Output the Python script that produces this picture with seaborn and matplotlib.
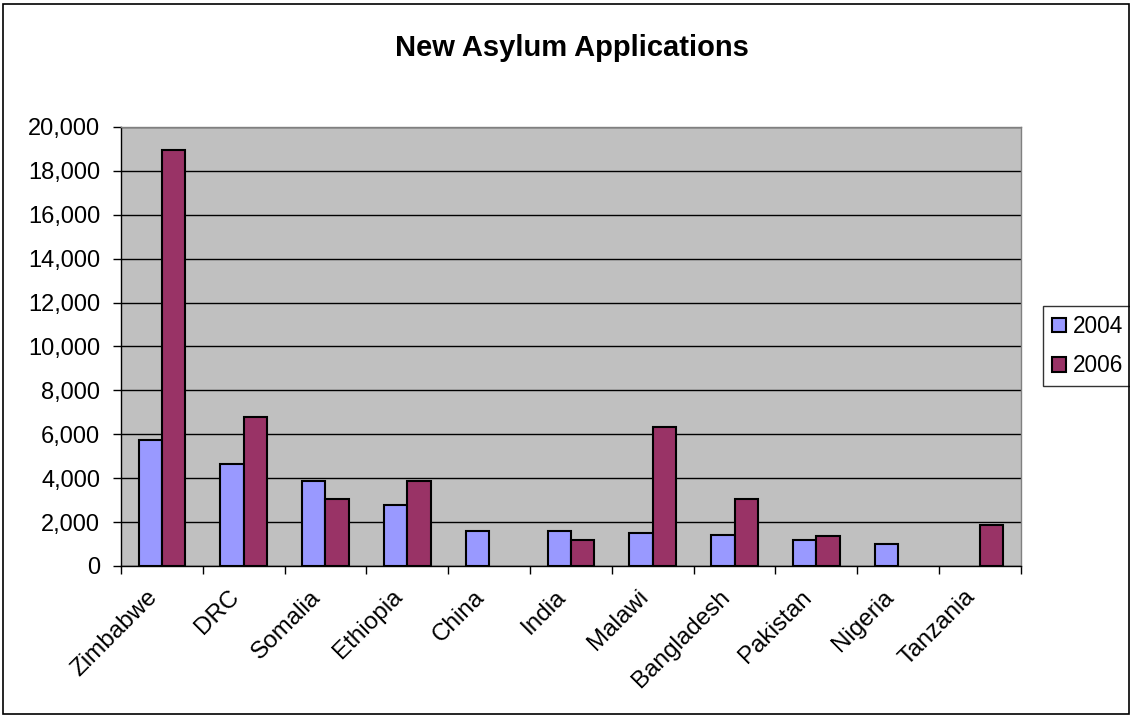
import matplotlib
matplotlib.use("Agg")
import matplotlib.pyplot as plt
import matplotlib.ticker as mticker
import matplotlib.transforms as mtransforms
from matplotlib.patches import Rectangle
import numpy as np
import pandas as pd
import seaborn as sns

# data
countries = ["Zimbabwe", "DRC", "Somalia", "Ethiopia", "China", "India",
             "Malawi", "Bangladesh", "Pakistan", "Nigeria", "Tanzania"]
apps_2004 = [5750, 4650, 3890, 2780, 1610, 1600, 1505, 1415, 1170, 990, np.nan]
apps_2006 = [18970, 6780, 3040, 3890, np.nan, 1170, 6340, 3040, 1355, np.nan, 1855]
years = ["2004", "2006"]
colors = ["#9999FF", "#993366"]

df = pd.DataFrame({
    "country": countries * 2,
    "year": [years[0]] * len(countries) + [years[1]] * len(countries),
    "apps": apps_2004 + apps_2006,
}).dropna()

sns.set_style("white")
plt.rcParams["font.family"] = ["Liberation Sans", "DejaVu Sans"]
plt.rcParams["text.color"] = "black"
plt.rcParams["xtick.color"] = "black"
plt.rcParams["ytick.color"] = "black"

fig = plt.figure(figsize=(11.3, 7.17), dpi=100)
ax = fig.add_axes([0.107, 0.2106, 0.7965, 0.6123])

sns.barplot(data=df, x="country", y="apps", hue="year", order=countries,
            hue_order=years, palette=colors, saturation=1, width=0.57, gap=0,
            edgecolor="black", linewidth=1.5, ax=ax, zorder=3)

ax.set_facecolor("#C0C0C0")
ax.set_ylim(0, 20000)
ax.set_xlim(-0.5, len(countries) - 0.5)
ax.yaxis.set_major_locator(mticker.MultipleLocator(2000))
ax.yaxis.set_major_formatter(mticker.FuncFormatter(lambda v, p: f"{int(v):,}"))
ax.grid(axis="y", color="black", linewidth=1, zorder=1)
ax.set_axisbelow(True)

# tick marks at the category boundaries (Excel style), labels drawn separately
ax.set_xticks(np.arange(-0.5, len(countries)))
ax.set_xticklabels([])
ax.tick_params(axis="x", bottom=True, length=6, width=1, direction="out")
ax.tick_params(axis="y", left=True, length=6, width=1, direction="out", labelsize=17, pad=9)

# rotated category names, nudged left like the original
shift = mtransforms.ScaledTranslation(-16 / 100, -20 / 100, fig.dpi_scale_trans)
for i, name in enumerate(countries):
    ax.text(i, 0, name, transform=ax.get_xaxis_transform() + shift, rotation=45,
            ha="right", va="top", rotation_mode="anchor", fontsize=17.5)

for side in ["left", "bottom"]:
    ax.spines[side].set_color("black")
    ax.spines[side].set_linewidth(1)
for side in ["top", "right"]:
    ax.spines[side].set_visible(True)
    ax.spines[side].set_color("#808080")
    ax.spines[side].set_linewidth(1)

ax.set_xlabel("")
ax.set_ylabel("")

fig.text(0.506, 1 - 48 / 717, "New Asylum Applications", ha="center", va="center",
         fontsize=21, fontweight="bold")

leg = ax.legend(loc="center left", frameon=True, fontsize=16.3, handlelength=0.62,
                handleheight=0.62, handletextpad=0.3, borderpad=0.4,
                labelspacing=0.72, borderaxespad=0)
leg.set_bbox_to_anchor((1042.5 / 1130, 1 - 346 / 717), transform=fig.transFigure)
leg.get_frame().set_edgecolor("black")
leg.get_frame().set_linewidth(1)
leg.get_frame().set_boxstyle("square", pad=0)

# outer chart border
fig.patches.append(Rectangle((0.003, 0.004), 0.996, 0.99, transform=fig.transFigure,
                             fill=False, edgecolor="black", linewidth=1.2))

fig.savefig("out.png", dpi=100)
